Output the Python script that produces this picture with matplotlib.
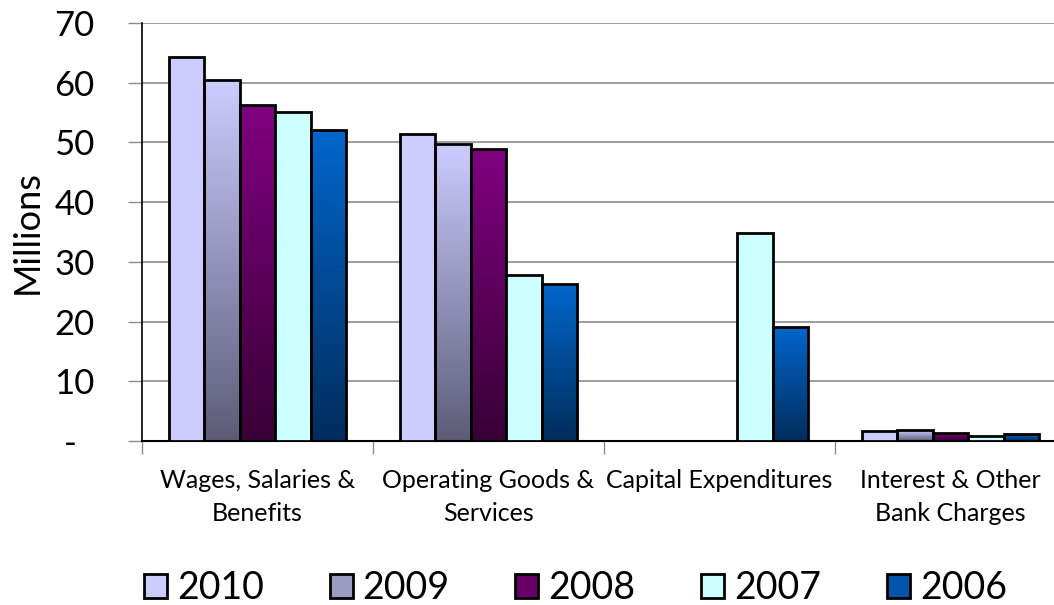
import numpy as np
import matplotlib
matplotlib.use("Agg")
from matplotlib import pyplot as plt
from matplotlib.patches import Patch
from matplotlib.colors import LinearSegmentedColormap

plt.rcParams['font.family'] = ['Lato', 'DejaVu Sans']

categories = ["Wages, Salaries &\nBenefits", "Operating Goods &\nServices",
              "Capital Expenditures", "Interest & Other\nBank Charges"]
years = ["2010", "2009", "2008", "2007", "2006"]

# values in millions, nan = no bar
v2010 = [64.3, 51.4, np.nan, 1.6]
v2009 = [60.5, 49.7, np.nan, 1.8]
v2008 = [56.3, 48.9, np.nan, 1.4]
v2007 = [55.1, 27.8, 34.8, 0.8]
v2006 = [52.1, 26.3, 19.1, 1.1]
series = [v2010, v2009, v2008, v2007, v2006]

# (top colour, bottom colour) for each year
fills = [("#CCCCFF", "#CCCCFF"),
         ("#CCCCFF", "#5C5C78"),
         ("#800080", "#380035"),
         ("#CCFFFF", "#CCFFFF"),
         ("#0066CC", "#002D5C")]
legend_cols = ["#CCCCFF", "#9C9CC0", "#660066", "#CCFFFF", "#0055AA"]

fig = plt.figure(figsize=(10.54, 6.05), dpi=100)
ax = fig.add_axes([142/1054, 164/605, 924/1054, 418/605])

n = len(years)
group = 0.77
w = group / n
x0 = np.arange(len(categories))

for i, (vals, (top, bot)) in enumerate(zip(series, fills)):
    vals = np.array(vals, dtype=float)
    ok = ~np.isnan(vals)
    xs = x0[ok] + (1 - group) / 2 + w * (i + 0.5)
    bars = ax.bar(xs, vals[ok], width=w, facecolor=top if top == bot else 'none',
                  edgecolor='black', linewidth=2, zorder=3)
    if top != bot:
        cmap = LinearSegmentedColormap.from_list("g%d" % i, [bot, top])
        grad = np.linspace(0, 1, 256).reshape(-1, 1)
        for b in bars:
            bx, by = b.get_x(), b.get_y()
            im = ax.imshow(grad, cmap=cmap, origin='lower', aspect='auto',
                           extent=[bx, bx + b.get_width(), by, by + b.get_height()],
                           zorder=2.5)
            im.set_clip_path(b)

ax.set_xlim(0, 4)
ax.set_ylim(0, 70)
ax.set_yticks(np.arange(0, 71, 10))
ax.set_yticklabels(["-  "] + [str(v) for v in range(10, 71, 10)], fontsize=25)
ax.set_ylabel("Millions", fontsize=26, labelpad=8)
ax.yaxis.grid(True, color='#8C8C8C', linewidth=1.2, zorder=0)
ax.set_axisbelow(True)
ax.tick_params(axis='y', length=10, width=1, color='#8C8C8C', pad=24)

ax.set_xticks(np.arange(0, 5))
ax.set_xticklabels([])
ax.set_xticks(x0 + 0.5, minor=True)
ax.set_xticklabels(categories, minor=True, fontsize=18, linespacing=1.55)
ax.tick_params(axis='x', which='major', length=9, width=1, color='#8C8C8C')
ax.tick_params(axis='x', which='minor', length=0, pad=20)

for s in ['top', 'right']:
    ax.spines[s].set_visible(False)
ax.spines['left'].set_linewidth(1.2)
ax.spines['bottom'].set_linewidth(1.5)

handles = [Patch(facecolor=c, edgecolor='black', linewidth=2) for c in legend_cols]
fig.legend(handles, years, loc='lower center', bbox_to_anchor=(0.546, -0.058), ncol=5,
           frameon=False, fontsize=27, handlelength=0.61, handleheight=0.61,
           handletextpad=0.27, columnspacing=1.75)

fig.savefig("out.png", dpi=100)
